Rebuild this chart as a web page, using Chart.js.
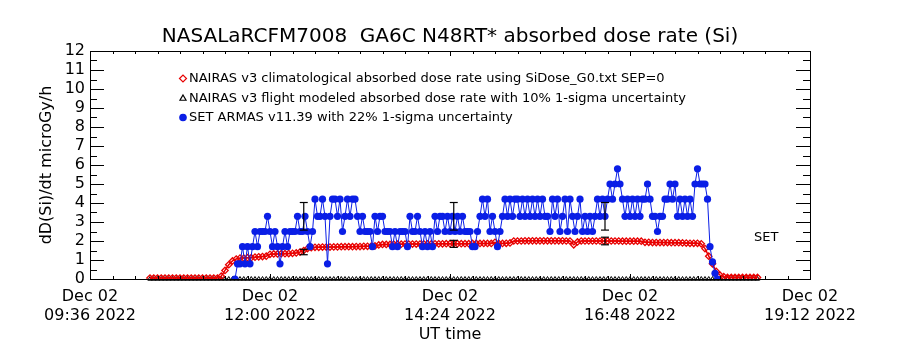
<!DOCTYPE html>
<html>
<head>
<meta charset="utf-8">
<script src="https://cdn.jsdelivr.net/npm/chart.js@4.4.0/dist/chart.umd.min.js"></script>
<style>
  body { margin: 0; background: #fff; }
  #wrap { width: 900px; height: 350px; }
</style>
</head>
<body>
<div id="wrap"><canvas id="doseChart" width="900" height="350"></canvas></div>
<script>
// Labels
const chartTitle = 'NASALaRCFM7008  GA6C N48RT* absorbed dose rate (Si)';
const yTitle = 'dD(Si)/dt microGy/h';
const xTitle = 'UT time';
const axisStart = '09:36';
const axisEnd = '19:12';
const tickDay = 'Dec 02';
const tickYear = '2022';
const xTickTimes = ['09:36', '12:00', '14:24', '16:48', '19:12'];
const legendLabels = [
    'NAIRAS v3 climatological absorbed dose rate using SiDose_G0.txt SEP=0',
    'NAIRAS v3 flight modeled absorbed dose rate with 10% 1-sigma uncertainty',
    'SET ARMAS v11.39 with 22% 1-sigma uncertainty'
];
const sideLabel = 'SET';

// NAIRAS climatological (red diamonds), every 3 min from 10:24
const climStart = '10:24';
const climStep = 3;
const climValues = [
    0.05, 0.05, 0.05, 0.05, 0.05, 0.05, 0.05, 0.05, 0.05, 0.05,
    0.05, 0.05, 0.05, 0.05, 0.05, 0.05, 0.05, 0.05, 0.05, 0.15,
    0.45, 0.75, 0.95, 1.05, 1.1, 1.1, 1.12, 1.12, 1.15, 1.17,
    1.18, 1.2, 1.3, 1.32, 1.32, 1.33, 1.33, 1.34, 1.35, 1.37,
    1.42, 1.5, 1.6, 1.65, 1.67, 1.67, 1.68, 1.68, 1.68, 1.69,
    1.69, 1.7, 1.7, 1.7, 1.7, 1.71, 1.71, 1.72, 1.72, 1.73,
    1.74, 1.79, 1.82, 1.82, 1.82, 1.83, 1.83, 1.83, 1.84, 1.84,
    1.84, 1.84, 1.84, 1.85, 1.85, 1.85, 1.85, 1.85, 1.85, 1.86,
    1.86, 1.86, 1.86, 1.86, 1.86, 1.86, 1.87, 1.87, 1.87, 1.87,
    1.87, 1.87, 1.93, 1.87, 1.87, 1.88, 1.9, 2.0, 2.0, 2.0,
    2.01, 2.01, 2.01, 2.01, 2.01, 2.01, 2.01, 2.01, 2.01, 2.01,
    2.01, 2.0, 2.0, 1.8, 1.95, 2.0, 2.0, 2.0, 2.0, 2.0,
    2.0, 2.0, 2.0, 2.0, 2.0, 2.0, 1.99, 1.99, 1.99, 1.99,
    1.99, 1.99, 1.93, 1.93, 1.92, 1.92, 1.92, 1.92, 1.92, 1.91,
    1.91, 1.91, 1.9, 1.89, 1.88, 1.88, 1.88, 1.85, 1.6, 1.2,
    0.8, 0.4, 0.2, 0.12, 0.08, 0.08, 0.08, 0.08, 0.08, 0.08,
    0.08, 0.08, 0.08
];

// NAIRAS flight modeled (black triangles), every 3 min from 10:24
const flightStart = '10:24';
const flightStep = 3;
const flightValues = [
    0, 0, 0, 0, 0, 0, 0, 0, 0, 0, 0, 0, 0, 0, 0, 0, 0, 0, 0, 0,
    0, 0, 0, 0, 0, 0, 0, 0, 0, 0, 0, 0, 0, 0, 0, 0, 0, 0, 0, 0,
    0, 0, 0, 0, 0, 0, 0, 0, 0, 0, 0, 0, 0, 0, 0, 0, 0, 0, 0, 0,
    0, 0, 0, 0, 0, 0, 0, 0, 0, 0, 0, 0, 0, 0, 0, 0, 0, 0, 0, 0,
    0, 0, 0, 0, 0, 0, 0, 0, 0, 0, 0, 0, 0, 0, 0, 0, 0, 0, 0, 0,
    0, 0, 0, 0, 0, 0, 0, 0, 0, 0, 0, 0, 0, 0, 0, 0, 0, 0, 0, 0,
    0, 0, 0, 0, 0, 0, 0, 0, 0, 0, 0, 0, 0, 0, 0, 0, 0, 0, 0, 0,
    0, 0, 0, 0, 0, 0, 0, 0, 0, 0, 0, 0, 0, 0, 0, 0, 0, 0, 0, 0,
    0, 0, 0
];

// SET ARMAS measured (blue dots), every 2 min from 11:32
const armasStart = '11:32';
const armasStep = 2;
const armasValues = [
    0, 0.8, 0.8, 1.7, 0.8, 1.7, 0.8, 1.7, 2.5, 1.7,
    2.5, 2.5, 2.5, 3.3, 2.5, 1.7, 2.5, 1.7, 0.8, 1.7,
    2.5, 1.7, 2.5, 2.5, 2.5, 3.3, 2.5, 2.5, 3.3, 2.5,
    1.7, 2.5, 4.2, 3.3, 3.3, 4.2, 3.3, 0.8, 3.3, 4.2,
    4.2, 3.3, 4.2, 2.5, 3.3, 4.2, 3.3, 4.2, 4.2, 3.3,
    2.5, 3.3, 2.5, 2.5, 2.5, 1.7, 3.3, 2.5, 3.3, 3.3,
    2.5, 2.5, 2.5, 1.7, 2.5, 1.7, 2.5, 2.5, 2.5, 1.7,
    3.3, 2.5, 2.5, 3.3, 2.5, 1.7, 2.5, 1.7, 2.5, 1.7,
    3.3, 2.5, 3.3, 3.3, 2.5, 3.3, 2.5, 3.3, 2.5, 3.3,
    2.5, 3.3, 2.5, 2.5, 2.5, 1.7, 1.7, 2.5, 3.3, 4.2,
    3.3, 4.2, 2.5, 3.3, 2.5, 1.7, 2.5, 3.3, 4.2, 3.3,
    4.2, 3.3, 4.2, 4.2, 3.3, 4.2, 3.3, 4.2, 3.3, 4.2,
    3.3, 4.2, 3.3, 4.2, 3.3, 3.3, 2.5, 4.2, 3.3, 4.2,
    2.5, 3.3, 4.2, 2.5, 4.2, 3.3, 2.5, 3.3, 4.2, 2.5,
    3.3, 2.5, 3.3, 2.5, 3.3, 4.2, 3.3, 4.2, 3.3, 4.2,
    5.0, 4.2, 5.0, 5.8, 5.0, 4.2, 3.3, 4.2, 3.3, 4.2,
    3.3, 4.2, 3.3, 4.2, 4.2, 5.0, 4.2, 3.3, 3.3, 2.5,
    3.3, 3.3, 4.2, 4.2, 5.0, 4.2, 5.0, 3.3, 4.2, 3.3,
    4.2, 3.3, 4.2, 3.3, 5.0, 5.8, 5.0, 5.0, 5.0, 4.2,
    1.7, 0.9, 0.3, 0
];

// Error bars
const errTimes = ['12:27', '14:27', '16:28'];
const errArmas = [3.3, 3.3, 3.3];
const errClim = [1.42, 1.85, 2.0];
const armasSigma = 0.22;
const climSigma = 0.10;

const toMin = t => {
    const [h, m] = t.split(':').map(Number);
    const [h0, m0] = axisStart.split(':').map(Number);
    return (h * 60 + m) - (h0 * 60 + m0);
};
const series = (start, step, vals) => vals.map((y, i) => ({ x: toMin(start) + i * step, y }));
const pad2 = n => String(n).padStart(2, '0');
const minToLabel = m => {
    const [h0, m0] = axisStart.split(':').map(Number);
    const t = h0 * 60 + m0 + m;
    return pad2(Math.floor(t / 60)) + ':' + pad2(t % 60);
};

const RED = '#e80000';
const BLUE = '#0a1ee6';

Chart.defaults.font.family = 'DejaVu Sans';
Chart.defaults.color = '#000';

const errorSets = [];
errTimes.forEach((t, i) => {
    [[errArmas[i], armasSigma], [errClim[i], climSigma]].forEach(([v, s]) => {
        errorSets.push({
            data: [{ x: toMin(t), y: v * (1 - s) }, { x: toMin(t), y: v * (1 + s) }],
            showLine: true, borderColor: '#000', borderWidth: 1.2,
            pointStyle: 'line', pointRadius: 4, pointBorderWidth: 1.2,
            pointBorderColor: '#000', order: 0
        });
    });
});

// frame, inward ticks, legend and SET label
const framePlugin = {
    id: 'frame',
    afterDraw(chart) {
        const { ctx, chartArea: a, scales: { x, y } } = chart;
        ctx.save();
        ctx.strokeStyle = '#000';
        ctx.lineWidth = 1;
        ctx.strokeRect(Math.round(a.left) + 0.5, Math.round(a.top) + 0.5,
            Math.round(a.right - a.left), Math.round(a.bottom - a.top));
        ctx.beginPath();
        for (let v = y.min; v <= y.max + 1e-6; v += 0.5) {
            const py = Math.round(y.getPixelForValue(v)) + 0.5;
            const len = Number.isInteger(v) ? 14 : 7;
            ctx.moveTo(a.left, py); ctx.lineTo(a.left + len, py);
            ctx.moveTo(a.right, py); ctx.lineTo(a.right - len, py);
        }
        for (let m = x.min; m <= x.max + 1e-6; m += 18) {
            const px = Math.round(x.getPixelForValue(m)) + 0.5;
            const len = m % 144 === 0 ? 5 : 3;
            ctx.moveTo(px, a.bottom); ctx.lineTo(px, a.bottom - len);
            ctx.moveTo(px, a.top); ctx.lineTo(px, a.top + len);
        }
        ctx.stroke();

        // legend
        const marks = [
            { pointStyle: 'rectRot', radius: 3.5, color: RED, fill: 'rgba(0,0,0,0)' },
            { pointStyle: 'triangle', radius: 3.5, color: '#000', fill: 'rgba(0,0,0,0)' },
            { pointStyle: 'circle', radius: 3.2, color: BLUE, fill: BLUE }
        ];
        const rows = [78.5, 98.5, 117.5];
        ctx.font = '13px "DejaVu Sans"';
        ctx.textBaseline = 'middle';
        ctx.textAlign = 'left';
        legendLabels.forEach((txt, i) => {
            const m = marks[i];
            ctx.strokeStyle = m.color;
            ctx.fillStyle = m.fill;
            ctx.lineWidth = 1.2;
            Chart.helpers.drawPoint(ctx, { pointStyle: m.pointStyle, radius: m.radius, rotation: 0, borderWidth: 1.2 }, a.left + 93, rows[i]);
            ctx.fillStyle = '#000';
            ctx.fillText(txt, a.left + 99, rows[i]);
        });
        ctx.font = '13px "DejaVu Sans"';
        ctx.fillText(sideLabel, a.left + 664, 238);
        ctx.restore();
    }
};

new Chart(document.getElementById('doseChart'), {
    type: 'scatter',
    data: {
        datasets: [
            ...errorSets,
            {
                label: legendLabels[2],
                data: series(armasStart, armasStep, armasValues),
                showLine: true, borderColor: BLUE, borderWidth: 1,
                pointStyle: 'circle', pointRadius: 3.6, pointBorderWidth: 0,
                pointBackgroundColor: BLUE, order: 1
            },
            {
                label: legendLabels[0],
                data: series(climStart, climStep, climValues),
                showLine: true, borderColor: RED, borderWidth: 1.5,
                pointStyle: 'rectRot', pointRadius: 3.2, pointBorderWidth: 1.3,
                pointBorderColor: RED, pointBackgroundColor: 'rgba(0,0,0,0)', order: 2
            },
            {
                label: legendLabels[1],
                data: series(flightStart, flightStep, flightValues),
                showLine: false,
                pointStyle: 'triangle', pointRadius: 2.5, pointBorderWidth: 1,
                pointBorderColor: '#000', pointBackgroundColor: 'rgba(0,0,0,0)',
                clip: false, order: 3
            }
        ]
    },
    options: {
        responsive: false,
        animation: false,
        layout: { padding: 0 },
        plugins: {
            legend: { display: false },
            tooltip: { enabled: false },
            title: {
                display: true, text: chartTitle, color: '#000',
                font: { size: 20, weight: 'normal' },
                padding: { top: 25, bottom: 2 }
            }
        },
        scales: {
            x: {
                type: 'linear', min: toMin(axisStart), max: toMin(axisEnd),
                afterFit: s => { s.height = 71; },
                afterBuildTicks: s => { s.ticks = xTickTimes.map(t => ({ value: toMin(t) })); },
                grid: { display: false, drawTicks: false },
                border: { display: false },
                ticks: {
                    padding: 8, maxRotation: 0, autoSkip: false,
                    font: { size: 16 }, color: '#000',
                    callback: v => [tickDay, minToLabel(v) + ' ' + tickYear]
                },
                title: { display: true, text: xTitle, font: { size: 16 }, color: '#000', padding: { top: 0, bottom: 6 } }
            },
            y: {
                min: 0, max: 12,
                afterFit: s => { s.width = 90; },
                grid: { display: false, drawTicks: false },
                border: { display: false },
                ticks: { stepSize: 1, autoSkip: false, padding: 5, font: { size: 16 }, color: '#000' },
                title: { display: true, text: yTitle, font: { size: 16 }, color: '#000', padding: { top: 37, bottom: 0 } }
            },
            yRight: {
                position: 'right', min: 0, max: 12,
                afterFit: s => { s.width = 90; },
                grid: { display: false, drawTicks: false },
                border: { display: false },
                ticks: { display: false }
            }
        }
    },
    plugins: [framePlugin]
});
</script>
</body>
</html>
